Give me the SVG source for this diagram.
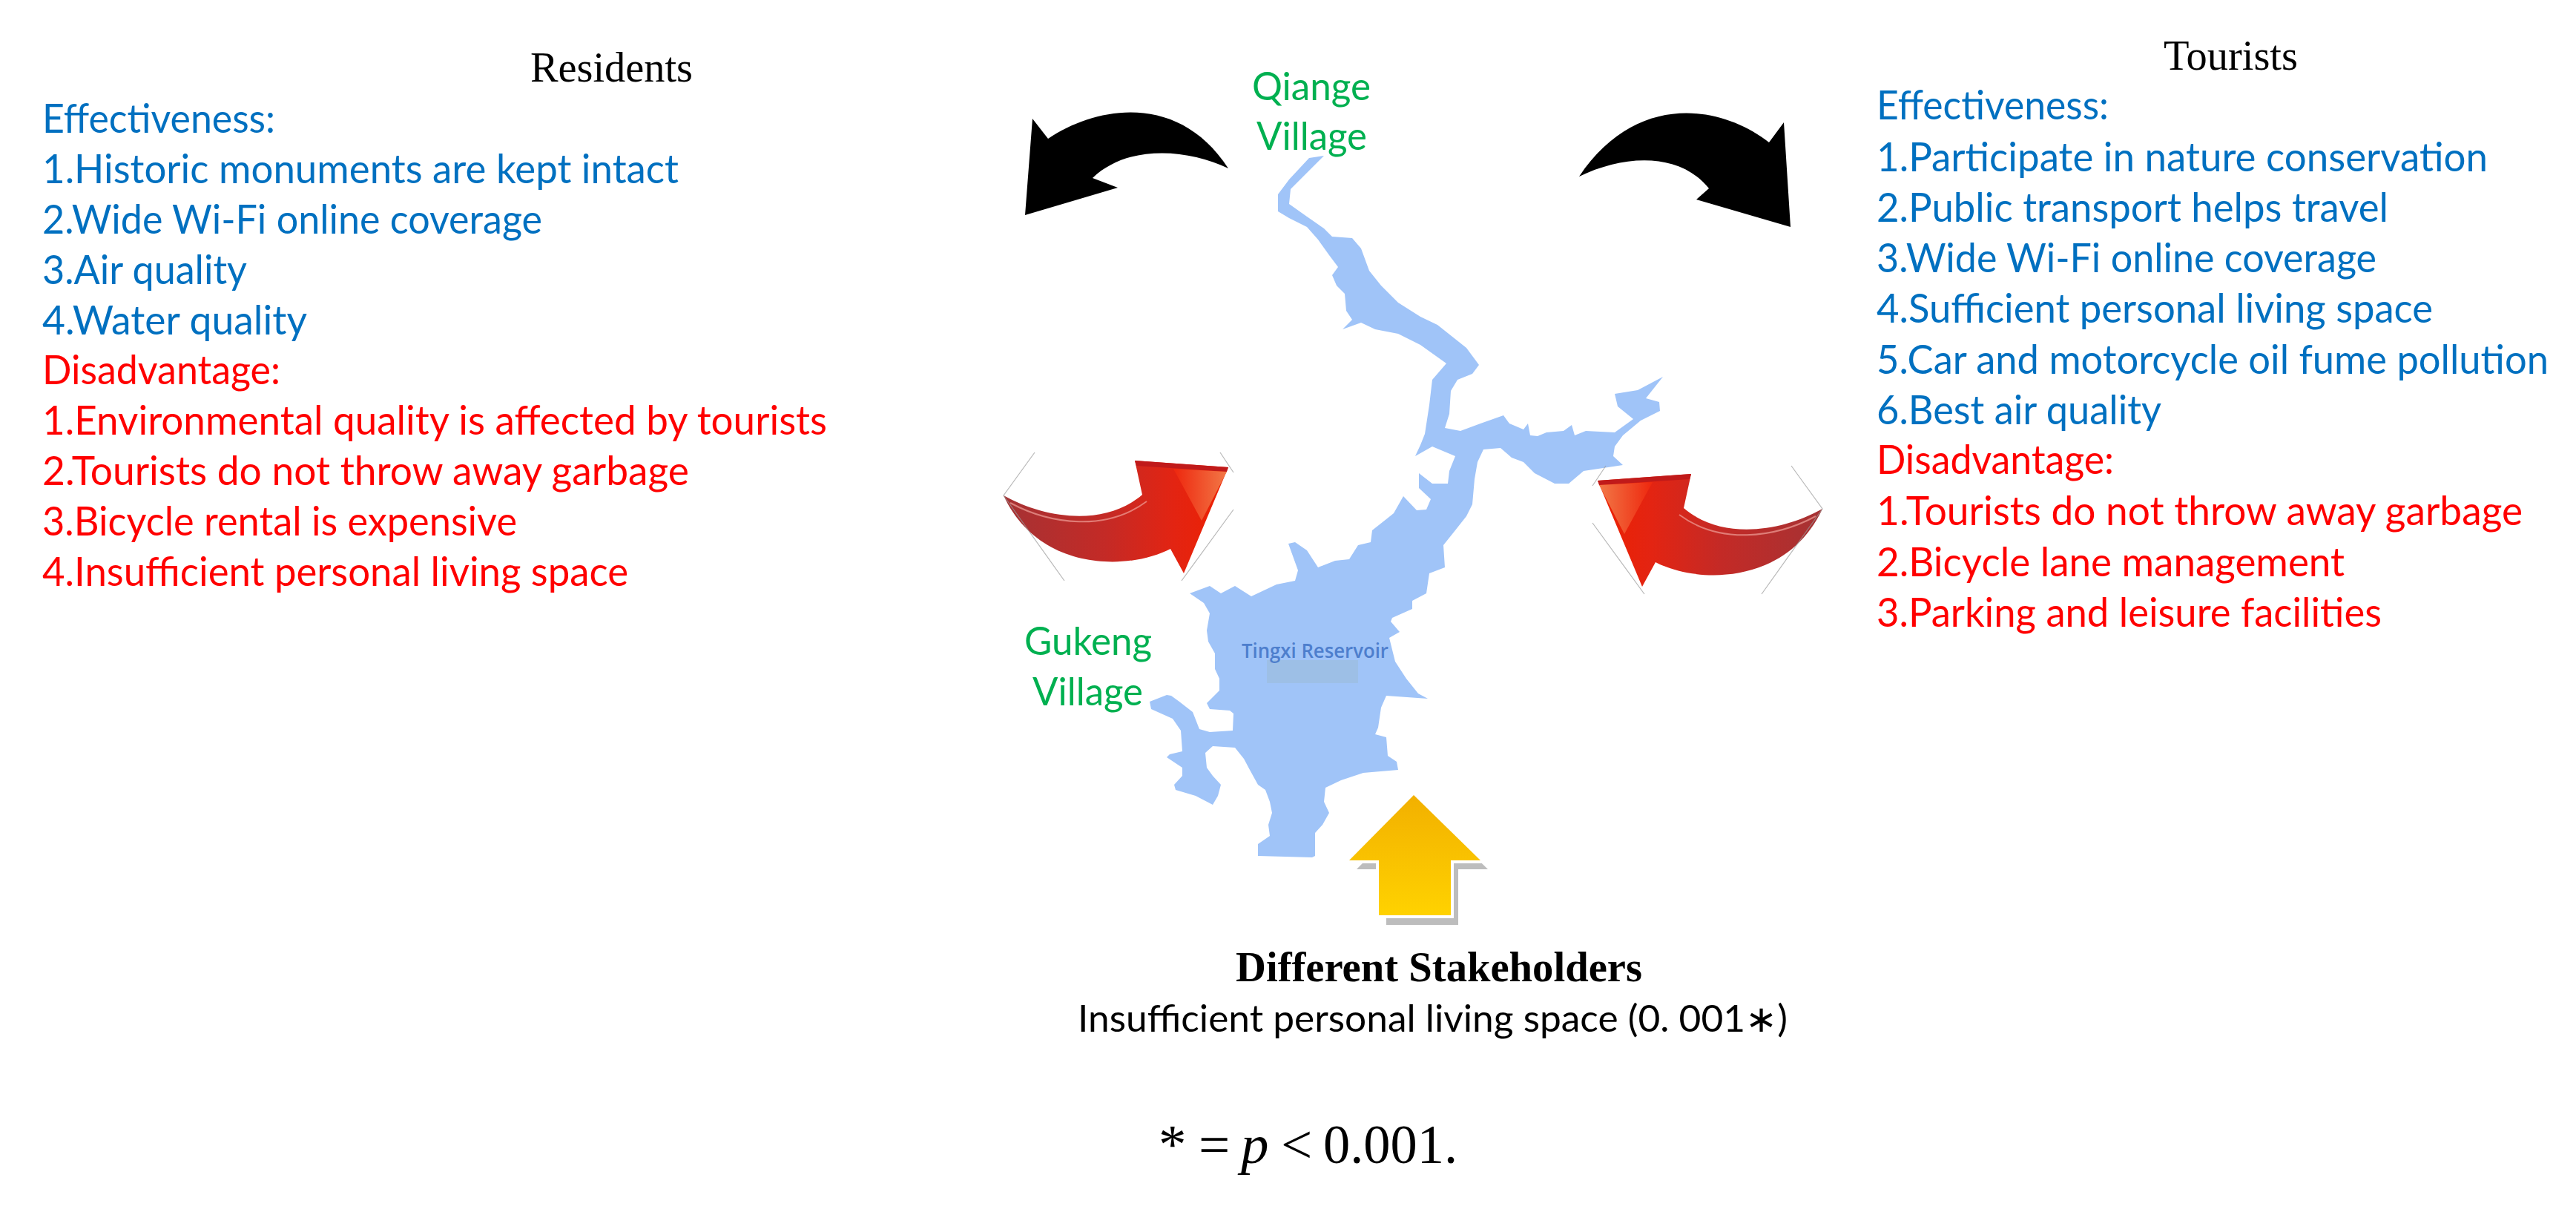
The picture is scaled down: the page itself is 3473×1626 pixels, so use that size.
<svg xmlns="http://www.w3.org/2000/svg" width="3473" height="1626" viewBox="0 0 3473 1626">
<defs>
<style>
.ttl{font-family:"Liberation Serif","Times New Roman",serif;fill:#000}
.lst{font-family:Lato,"Open Sans","Noto Sans",sans-serif;font-size:55px}
.blue{fill:#0070c0}
.red{fill:#ff0000}
.grn{font-family:Lato,"Open Sans","Noto Sans",sans-serif;font-size:52px;fill:#00b050}
.hex{stroke:#9a9a9a;stroke-width:1.2;fill:none;opacity:0.7}
.fn{font-family:"Liberation Serif","Times New Roman",serif;font-size:75px;fill:#000}
</style>
<linearGradient id="redBody" gradientUnits="userSpaceOnUse" x1="1353" y1="0" x2="1660" y2="0">
<stop offset="0" stop-color="#a53234"/>
<stop offset="0.45" stop-color="#c42a26"/>
<stop offset="0.75" stop-color="#e32412"/>
<stop offset="1" stop-color="#ee2000"/>
</linearGradient>
<linearGradient id="redHi" gradientUnits="userSpaceOnUse" x1="1585" y1="0" x2="1656" y2="0">
<stop offset="0" stop-color="#ee2a10"/>
<stop offset="1" stop-color="#f27a48"/>
</linearGradient>
<linearGradient id="yel" gradientUnits="userSpaceOnUse" x1="0" y1="1072" x2="0" y2="1234">
<stop offset="0" stop-color="#f2b000"/>
<stop offset="1" stop-color="#ffd200"/>
</linearGradient>
<g id="redArrow">
<path d="M1353,668 C1410,700 1490,710 1540,667 L1530,621 L1656,630 L1596,773 L1578,740 C1520,770 1400,770 1353,668 Z" fill="url(#redBody)"/>
<path d="M1530,621 L1656,630 L1654,636 L1532,628 Z" fill="#c01a1a"/>
<path d="M1582,632 L1654,636 L1620,702 Z" fill="url(#redHi)"/>
<path d="M1362,678 C1418,708 1492,716 1546,676" fill="none" stroke="#f0a098" stroke-width="2" opacity="0.7"/>
<path d="M1395,610 L1353,668 L1435,783 M1645,610 L1663,637 M1663,687 L1593,783" class="hex"/>
</g>
</defs>
<rect x="0" y="0" width="3473" height="1626" fill="#ffffff"/>

<g id="map">
<polygon fill="#a0c4f8" points="1785,210 1740,255 1738,275 1762,292 1785,308 1796,319 1823,321 1835,335 1846,365 1862,385 1885,408 1915,427 1938,438 1977,469 1994,492 1985,504 1965,512 1956,527 1954,558 1948,577 1969,581 1996,571 2027,560 2035,571 2054,579 2060,571 2063,587 2073,588 2085,583 2108,581 2119,573 2123,587 2138,581 2177,583 2202,565 2181,548 2177,531 2208,526 2242,508 2219,537 2237,542 2238,554 2212,567 2188,587 2177,602 2175,615 2188,627 2135,635 2115,652 2096,652 2069,638 2054,623 2038,617 2023,604 2000,606 1992,623 1988,646 1985,680 1977,696 1962,715 1946,735 1948,765 1927,773 1923,800 1904,810 1904,821 1877,833 1875,838 1887,852 1873,860 1881,892 1896,915 1912,935 1925,942 1869,938 1862,954 1858,981 1854,990 1869,994 1871,1019 1883,1027 1885,1038 1838,1042 1808,1052 1787,1062 1785,1081 1792,1096 1783,1112 1773,1123 1773,1154 1769,1156 1696,1154 1696,1138 1712,1127 1710,1112 1715,1096 1712,1081 1706,1065 1696,1058 1685,1038 1677,1023 1665,1008 1635,1006 1625,1015 1627,1035 1635,1046 1646,1058 1642,1073 1635,1085 1612,1073 1585,1065 1583,1058 1594,1046 1594,1035 1573,1021 1577,1017 1594,1013 1592,985 1581,969 1552,956 1550,946 1573,937 1579,938 1590,946 1608,960 1617,983 1631,987 1662,985 1663,962 1658,958 1631,956 1627,948 1644,931 1644,915 1638,902 1638,881 1629,865 1627,850 1631,827 1623,813 1604,800 1631,790 1646,800 1665,790 1687,804 1721,788 1746,783 1750,769 1737,733 1746,731 1762,742 1777,765 1800,756 1819,754 1831,735 1848,731 1850,715 1869,700 1879,692 1892,669 1910,688 1923,687 1929,673 1913,658 1913,638 1931,652 1952,652 1954,635 1962,615 1931,602 1908,615 1915,600 1921,585 1927,546 1931,512 1950,490 1915,465 1885,450 1854,444 1835,435 1810,444 1823,431 1815,419 1813,396 1802,385 1796,371 1804,360 1792,344 1777,323 1762,306 1738,294 1723,285 1723,262 1738,242 1765,213"/>
<rect x="1708" y="890" width="123" height="31" fill="#9dbfe6"/>
<text x="1674" y="887" textLength="198" lengthAdjust="spacingAndGlyphs" font-family="'Open Sans','Noto Sans',sans-serif" font-size="27" font-weight="600" fill="#4577c9" opacity="0.9">Tingxi Reservoir</text>
<text class="grn" x="1688" y="135" textLength="160" lengthAdjust="spacingAndGlyphs">Qiange</text>
<text class="grn" x="1694" y="202" textLength="149" lengthAdjust="spacingAndGlyphs">Village</text>
<text class="grn" x="1381" y="883" textLength="172" lengthAdjust="spacingAndGlyphs">Gukeng</text>
<text class="grn" x="1392" y="951" textLength="149" lengthAdjust="spacingAndGlyphs">Village</text>
</g>

<g id="connectors">
<path id="black-left" d="M1382,290 L1392,160 L1413,187 C1480,142 1590,125 1656,227 C1600,200 1520,195 1473,240 L1507,253 Z" fill="#000"/>
<path id="black-right" d="M2414,306 L2405,165 L2385,192 C2318,140 2205,125 2129,238 C2190,208 2265,205 2304,254 L2287,269 Z" fill="#000"/>
<use id="red-left" href="#redArrow"/>
<use id="red-right" href="#redArrow" transform="matrix(-1 0 0 1 3810 18)"/>
<g id="yellow-up">
<polygon points="1916,1084 2006,1172 1966,1172 1966,1247 1869,1247 1869,1172 1829,1172" fill="#bdbdbd"/>
<polygon points="1906,1072 1996,1160 1956,1160 1956,1234 1859,1234 1859,1160 1819,1160" fill="#ffffff" stroke="#ffffff" stroke-width="8" stroke-linejoin="miter"/>
<polygon points="1906,1072 1996,1160 1956,1160 1956,1234 1859,1234 1859,1160 1819,1160" fill="url(#yel)"/>
</g>
</g>

<g id="residents">
<text class="ttl" x="715" y="110" font-size="57" textLength="219" lengthAdjust="spacingAndGlyphs">Residents</text>
<text class="lst blue" x="57" y="179" textLength="314" lengthAdjust="spacingAndGlyphs">Effectiveness:</text>
<text class="lst blue" x="57" y="247" textLength="858" lengthAdjust="spacingAndGlyphs">1.Historic monuments are kept intact</text>
<text class="lst blue" x="57" y="315" textLength="674" lengthAdjust="spacingAndGlyphs">2.Wide Wi-Fi online coverage</text>
<text class="lst blue" x="57" y="383" textLength="276" lengthAdjust="spacingAndGlyphs">3.Air quality</text>
<text class="lst blue" x="57" y="451" textLength="357" lengthAdjust="spacingAndGlyphs">4.Water quality</text>
<text class="lst red" x="57" y="518" textLength="321" lengthAdjust="spacingAndGlyphs">Disadvantage:</text>
<text class="lst red" x="57" y="586" textLength="1058" lengthAdjust="spacingAndGlyphs">1.Environmental quality is affected by tourists</text>
<text class="lst red" x="57" y="654" textLength="872" lengthAdjust="spacingAndGlyphs">2.Tourists do not throw away garbage</text>
<text class="lst red" x="57" y="722" textLength="640" lengthAdjust="spacingAndGlyphs">3.Bicycle rental is expensive</text>
<text class="lst red" x="57" y="790" textLength="790" lengthAdjust="spacingAndGlyphs">4.Insufficient personal living space</text>
</g>

<g id="tourists">
<text class="ttl" x="2917" y="94" font-size="57" textLength="181" lengthAdjust="spacingAndGlyphs">Tourists</text>
<text class="lst blue" x="2530" y="161" textLength="313" lengthAdjust="spacingAndGlyphs">Effectiveness:</text>
<text class="lst blue" x="2530" y="231" textLength="824" lengthAdjust="spacingAndGlyphs">1.Participate in nature conservation</text>
<text class="lst blue" x="2530" y="299" textLength="690" lengthAdjust="spacingAndGlyphs">2.Public transport helps travel</text>
<text class="lst blue" x="2530" y="367" textLength="674" lengthAdjust="spacingAndGlyphs">3.Wide Wi-Fi online coverage</text>
<text class="lst blue" x="2530" y="435" textLength="750" lengthAdjust="spacingAndGlyphs">4.Sufficient personal living space</text>
<text class="lst blue" x="2530" y="504" textLength="906" lengthAdjust="spacingAndGlyphs">5.Car and motorcycle oil fume pollution</text>
<text class="lst blue" x="2530" y="572" textLength="384" lengthAdjust="spacingAndGlyphs">6.Best air quality</text>
<text class="lst red" x="2530" y="639" textLength="320" lengthAdjust="spacingAndGlyphs">Disadvantage:</text>
<text class="lst red" x="2530" y="708" textLength="871" lengthAdjust="spacingAndGlyphs">1.Tourists do not throw away garbage</text>
<text class="lst red" x="2530" y="777" textLength="631" lengthAdjust="spacingAndGlyphs">2.Bicycle lane management</text>
<text class="lst red" x="2530" y="845" textLength="681" lengthAdjust="spacingAndGlyphs">3.Parking and leisure facilities</text>
</g>

<g id="stakeholders">
<text class="ttl" x="1666" y="1323" font-size="57" font-weight="bold" textLength="548" lengthAdjust="spacingAndGlyphs">Different Stakeholders</text>
<text x="1453" y="1391" font-family="Lato,'Open Sans','Noto Sans',sans-serif" font-size="50" fill="#000" textLength="957" lengthAdjust="spacingAndGlyphs">Insufficient personal living space (0. 001∗)</text>
</g>

<g id="footnote">
<text class="fn" x="1562" y="1568" font-size="80">*</text>
<text class="fn" x="1616" y="1568">=</text>
<text class="fn" x="1673" y="1568" font-style="italic">p</text>
<text class="fn" x="1727" y="1568">&lt;</text>
<text class="fn" x="1784" y="1568" textLength="181" lengthAdjust="spacingAndGlyphs">0.001.</text>
</g>
</svg>
